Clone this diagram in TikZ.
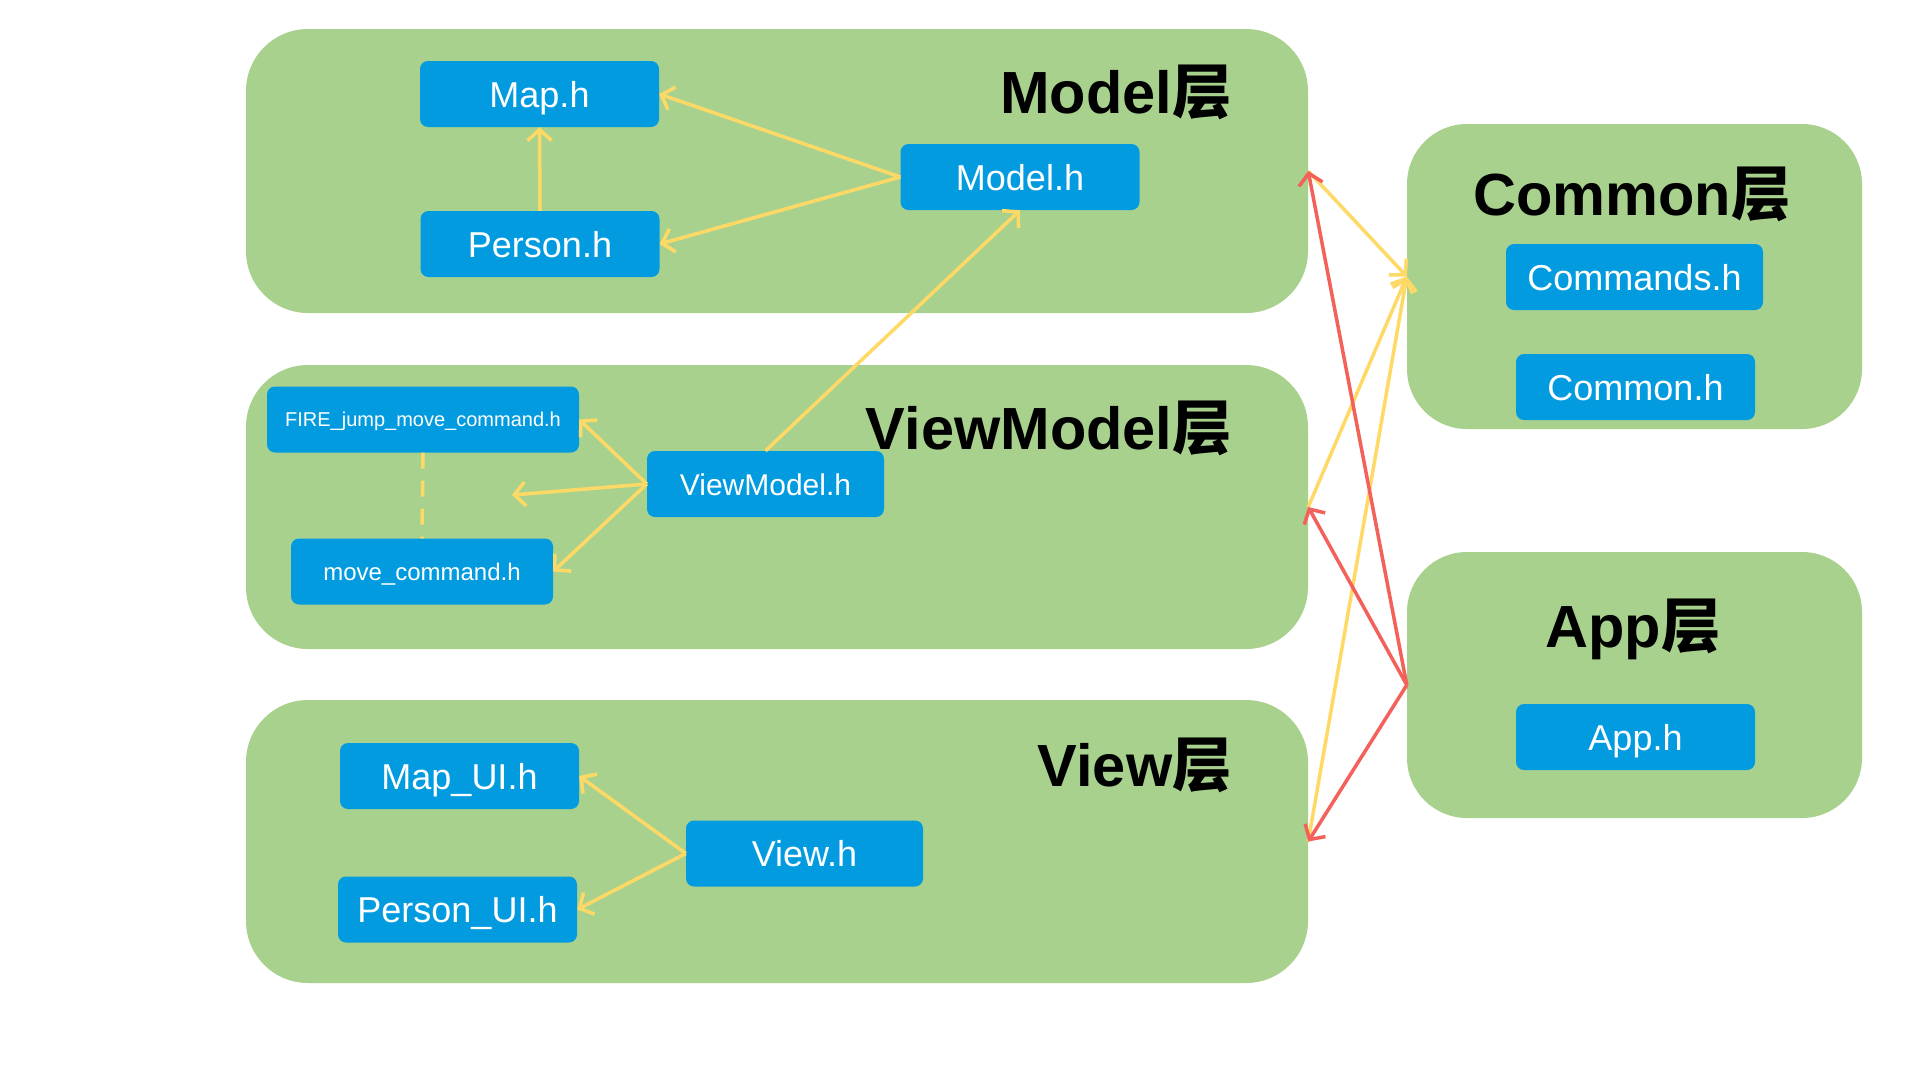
\documentclass[tikz,border=0pt]{standalone}
\usepackage{fontspec}
\setmainfont{Liberation Sans}
\newfontfamily\cjk{Noto Sans CJK SC}
\usetikzlibrary{arrows.meta}
\definecolor{panelgreen}{HTML}{A9D18E}
\definecolor{nodeblue}{HTML}{029BE0}
\definecolor{arrowyellow}{HTML}{FFD966}
\definecolor{arrowred}{HTML}{F4605A}
\begin{document}
\begin{tikzpicture}[x=1pt,y=-1pt,
  panel/.style={fill=panelgreen, draw=none, rounded corners=62pt, inner sep=0pt},
  file/.style={fill=nodeblue, draw=none, rounded corners=8pt, text=white, minimum width=239pt, minimum height=66pt, inner sep=0pt, text height=26.6pt, text depth=0pt, font=\fontsize{36}{40}\selectfont},
  smallfile/.style={file, font=\fontsize{#1}{#1}\selectfont, text height=0.74*#1 pt},
  layertitle/.style={font=\fontsize{59.5}{64}\selectfont\bfseries, inner sep=0pt},
  dep/.style={draw=arrowyellow, line width=3.5pt, -{Straight Barb[length=11pt,width=24pt,line width=3.5pt]}},
  use/.style={draw=arrowred, line width=3.5pt, -{Straight Barb[length=11pt,width=24pt,line width=3.5pt]}}
]
\useasboundingbox (0,0) rectangle (1920,1080);
\fill[white] (0,0) rectangle (1920,1080);

% panels
\node[panel, minimum width=1062pt, minimum height=284pt] (pmodel) at (777,171) {};
\node[panel, minimum width=1062pt, minimum height=284pt] (pvm) at (777,507) {};
\node[panel, minimum width=1062pt, minimum height=283pt] (pview) at (777,841.5) {};
\node[panel, minimum width=455pt, minimum height=305pt, rounded corners=60pt] (pcommon) at (1634.5,276.5) {};
\node[panel, minimum width=455pt, minimum height=266pt, rounded corners=60pt] (papp) at (1634.5,685) {};

% titles
\node[layertitle, anchor=east] (tmodel) at (1232,92) {Model{\cjk 层}};
\node[layertitle, anchor=east] (tvm) at (1232,428) {ViewModel{\cjk 层}};
\node[layertitle, anchor=east] (tview) at (1232,765) {View{\cjk 层}};
\node[layertitle] (tcommon) at (1632,194) {Common{\cjk 层}};
\node[layertitle] (tapp) at (1633,629) {App{\cjk 层}};

% files
\node[file] (maph) at (539.5,94) {Map.h};
\node[file] (personh) at (540,244) {Person.h};
\node[file] (modelh) at (1020,177) {Model.h};
\node[smallfile=20, minimum width=312pt] (fire) at (423,419.5) {FIRE\_jump\_move\_command.h};
\node[smallfile=24, minimum width=262pt] (movecmd) at (422,571.5) {move\_command.h};
\node[smallfile=30, minimum width=237pt] (vmh) at (765.5,484) {ViewModel.h};
\node[file] (mapui) at (459.5,776) {Map\_UI.h};
\node[file] (personui) at (457.5,909.5) {Person\_UI.h};
\node[file, minimum width=237pt] (viewh) at (804.5,853.5) {View.h};
\node[file, minimum width=257pt] (commandsh) at (1634.5,277) {Commands.h};
\node[file] (commonh) at (1635.5,387) {Common.h};
\node[file] (apph) at (1635.5,737) {App.h};

\coordinate (vmfree) at (512,495);

% connectors inside layers
\draw[dep] (modelh.west) -- (maph.east);
\draw[dep] (modelh.west) -- (personh.east);
\draw[dep] (personh.north) -- (maph.south);
\draw[dep] (vmh.north) -- (modelh.south);
\draw[dep] (vmh.west) -- (fire.east);
\draw[dep] (vmh.west) -- (vmfree);
\draw[dep] (vmh.west) -- (movecmd.east);
\draw[draw=arrowyellow, line width=3.5pt, dash pattern=on 16pt off 12pt] (fire.south) -- (movecmd.north);
\draw[dep] (viewh.west) -- (mapui.east);
\draw[dep] (viewh.west) -- (personui.east);

% connectors between layers
\draw[dep] (pmodel.east) -- (pcommon.west);
\draw[dep] (pvm.east) -- (pcommon.west);
\draw[dep] (pview.east) -- (pcommon.west);
\draw[use] (papp.west) -- (pmodel.east);
\draw[use] (papp.west) -- (pvm.east);
\draw[use] (papp.west) -- (pview.east);
\end{tikzpicture}
\end{document}
